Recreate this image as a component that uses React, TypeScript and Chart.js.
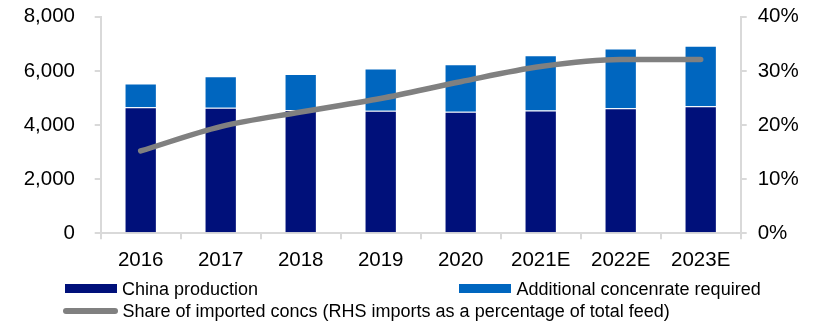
import React, { useEffect, useRef } from "react";
import { Chart, registerables } from "chart.js";

Chart.register(...registerables);

const categories = ["2016", "2017", "2018", "2019", "2020", "2021E", "2022E", "2023E"];
const chinaProduction = [4660, 4640, 4550, 4530, 4490, 4540, 4620, 4690];
const additionalConcentrate = [870, 1160, 1330, 1560, 1750, 2040, 2210, 2240];
const importShare = [0.152, 0.197, 0.224, 0.249, 0.28, 0.308, 0.321, 0.321];
const leftTicks = [0, 2000, 4000, 6000, 8000];
const rightTicks = [0, 0.1, 0.2, 0.3, 0.4];

const NAVY = "#00107A";
const BLUE = "#0066BF";
const GREY = "#808080";
const AXIS = "#d9d9d9";
const FONT = "'Liberation Sans', Arial, Helvetica, sans-serif";

export default function App() {
  const ref = useRef<HTMLCanvasElement | null>(null);

  useEffect(() => {
    if (!ref.current) return;
    const tickFont = { family: FONT, size: 20.5 };
    const chart = new Chart(ref.current, {
      type: "bar",
      data: {
        labels: categories,
        datasets: [
          {
            type: "bar",
            label: "China production",
            data: chinaProduction,
            backgroundColor: NAVY,
            borderColor: "rgba(255,255,255,0.35)",
            borderWidth: 1,
            barPercentage: 0.404,
            categoryPercentage: 1,
            yAxisID: "y",
            order: 1,
          },
          {
            type: "bar",
            label: "Additional concenrate required",
            data: additionalConcentrate,
            backgroundColor: BLUE,
            borderColor: "rgba(255,255,255,0.35)",
            borderWidth: 1,
            barPercentage: 0.404,
            categoryPercentage: 1,
            yAxisID: "y",
            order: 1,
          },
          {
            type: "line",
            label: "Share of imported concs (RHS imports as a percentage of total feed)",
            data: importShare,
            borderColor: GREY,
            backgroundColor: GREY,
            borderWidth: 5.5,
            borderCapStyle: "round",
            borderJoinStyle: "round",
            cubicInterpolationMode: "monotone",
            pointRadius: 0,
            fill: false,
            yAxisID: "y1",
            order: 0,
          },
        ],
      } as any,
      options: {
        responsive: false,
        animation: false,
        layout: { padding: { top: 16.7, bottom: 48.7, left: 0, right: 0 } },
        plugins: { legend: { display: false }, tooltip: { enabled: false } },
        scales: {
          x: {
            stacked: true,
            offset: true,
            grid: {
              display: true,
              drawOnChartArea: false,
              drawTicks: true,
              tickLength: 6,
              color: AXIS,
              lineWidth: 2,
              offset: true,
            },
            border: { display: true, color: AXIS, width: 2 },
            ticks: { color: "#000", font: tickFont, padding: 9, maxRotation: 0, autoSkip: false },
            afterFit: (s: any) => {
              s.height = 40;
            },
          },
          y: {
            stacked: true,
            position: "left",
            min: 0,
            max: 8000,
            afterBuildTicks: (s: any) => {
              s.ticks = leftTicks.map((v) => ({ value: v }));
            },
            grid: { drawOnChartArea: false, drawTicks: true, tickLength: 6, color: AXIS, lineWidth: 2 },
            border: { display: true, color: AXIS, width: 2 },
            ticks: {
              color: "#000",
              font: tickFont,
              padding: 19.7,
              callback: (v: any) => Number(v).toLocaleString("en-US"),
            },
            afterFit: (s: any) => {
              s.width = 100.7;
              s.paddingTop = 0;
              s.paddingBottom = 0;
            },
          },
          y1: {
            position: "right",
            min: 0,
            max: 0.4,
            afterBuildTicks: (s: any) => {
              s.ticks = rightTicks.map((v) => ({ value: v }));
            },
            grid: { drawOnChartArea: false, drawTicks: true, tickLength: 6, color: AXIS, lineWidth: 2 },
            border: { display: true, color: AXIS, width: 2 },
            ticks: {
              color: "#000",
              font: tickFont,
              padding: 11,
              callback: (v: any) => Math.round(Number(v) * 100) + "%",
            },
            afterFit: (s: any) => {
              s.width = 76.3;
              s.paddingTop = 0;
              s.paddingBottom = 0;
            },
          },
        },
      } as any,
    });
    return () => chart.destroy();
  }, []);

  const legendText: React.CSSProperties = {
    position: "absolute",
    fontFamily: FONT,
    fontSize: 18,
    lineHeight: "20px",
    color: "#000",
    whiteSpace: "nowrap",
  };

  return (
    <div style={{ position: "absolute", left: 0, top: 0, width: 817, height: 322, background: "#fff" }}>
      <canvas ref={ref} width={817} height={322} style={{ display: "block", width: 817, height: 322 }} />
      <div style={{ position: "absolute", left: 65, top: 284, width: 52, height: 9, background: NAVY }} />
      <div style={{ ...legendText, left: 122, top: 278.8 }}>China production</div>
      <div style={{ position: "absolute", left: 459, top: 284, width: 52, height: 9, background: BLUE }} />
      <div style={{ ...legendText, left: 516.5, top: 278.8 }}>Additional concenrate required</div>
      <div
        style={{
          position: "absolute",
          left: 63,
          top: 308,
          width: 55,
          height: 6,
          borderRadius: 3,
          background: GREY,
        }}
      />
      <div style={{ ...legendText, left: 122.5, top: 300.5 }}>
        Share of imported concs (RHS imports as a percentage of total feed)
      </div>
    </div>
  );
}
